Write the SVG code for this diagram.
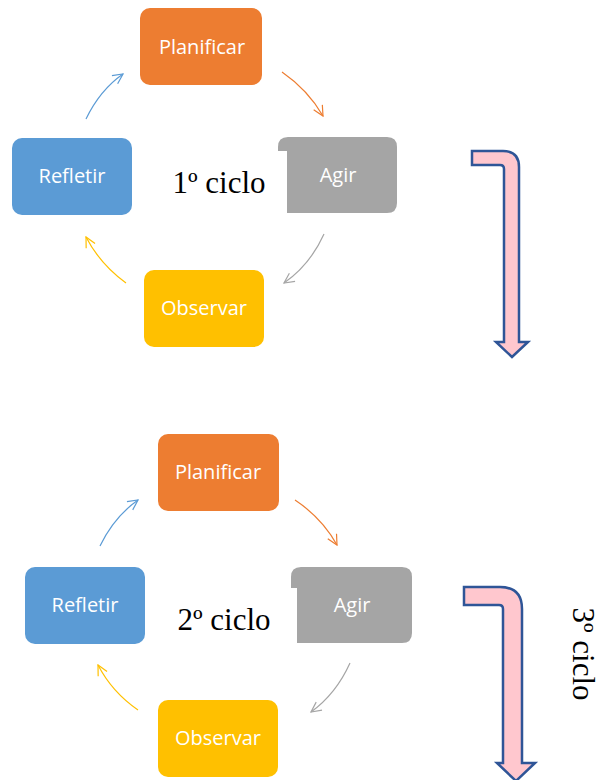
<svg xmlns="http://www.w3.org/2000/svg" width="600" height="780" viewBox="0 0 600 780">
<style>
.lbl{font-family:"Open Sans","Liberation Sans",sans-serif;font-size:20px;fill:#fff;text-anchor:middle;dominant-baseline:central}
.cyc{font-family:"Liberation Serif",serif;font-size:31px;fill:#000}
.c{fill:none;stroke-width:1.2}
.big{fill:#FFC7CE;stroke:#2F5597;stroke-width:2.5;stroke-linejoin:miter}
</style>
<defs>
<marker id="mb" viewBox="0 0 12 12" refX="11" refY="6" markerWidth="12" markerHeight="12" markerUnits="userSpaceOnUse" orient="auto"><path d="M1,1 L11,6 L1,11" fill="none" stroke="#5B9BD5" stroke-width="1.2"/></marker>
<marker id="mo" viewBox="0 0 12 12" refX="11" refY="6" markerWidth="12" markerHeight="12" markerUnits="userSpaceOnUse" orient="auto"><path d="M1,1 L11,6 L1,11" fill="none" stroke="#ED7D31" stroke-width="1.2"/></marker>
<marker id="mg" viewBox="0 0 12 12" refX="11" refY="6" markerWidth="12" markerHeight="12" markerUnits="userSpaceOnUse" orient="auto"><path d="M1,1 L11,6 L1,11" fill="none" stroke="#A5A5A5" stroke-width="1.2"/></marker>
<marker id="my" viewBox="0 0 12 12" refX="11" refY="6" markerWidth="12" markerHeight="12" markerUnits="userSpaceOnUse" orient="auto"><path d="M1,1 L11,6 L1,11" fill="none" stroke="#FFC000" stroke-width="1.2"/></marker>
</defs>

<g id="planificar1"><rect x="140" y="8" width="122" height="77" rx="10" fill="#ED7D31"/><text class="lbl" x="202" y="46">Planificar</text></g>
<g id="agir1"><path d="M287,213 L287,151 L278,151 L278,147 Q278,137 288,137 L387,137 Q397,137 397,147 L397,203 Q397,213 387,213 Z" fill="#A5A5A5"/><text class="lbl" x="338" y="174">Agir</text></g>
<g id="refletir1"><rect x="12" y="138" width="120" height="77" rx="10" fill="#5B9BD5"/><text class="lbl" x="72" y="175">Refletir</text></g>
<g id="observar1"><rect x="144" y="270" width="120" height="77" rx="10" fill="#FFC000"/><text class="lbl" x="204" y="307">Observar</text></g>
<text class="cyc" x="219" y="193" text-anchor="middle">1º ciclo</text>

<g id="planificar2"><rect x="158" y="434" width="121" height="77" rx="10" fill="#ED7D31"/><text class="lbl" x="218" y="471">Planificar</text></g>
<g id="agir2"><path d="M297,643 L297,588 L291,588 L291,577 Q291,567 301,567 L402,567 Q412,567 412,577 L412,633 Q412,643 402,643 Z" fill="#A5A5A5"/><text class="lbl" x="352" y="604">Agir</text></g>
<g id="refletir2"><rect x="25" y="567" width="120" height="77" rx="10" fill="#5B9BD5"/><text class="lbl" x="85" y="604">Refletir</text></g>
<g id="observar2"><rect x="158" y="700" width="120" height="77" rx="10" fill="#FFC000"/><text class="lbl" x="218" y="737">Observar</text></g>
<text class="cyc" x="224" y="630" text-anchor="middle">2º ciclo</text>
<text class="cyc" x="0" y="0" text-anchor="middle" transform="translate(573,654) rotate(90)">3º ciclo</text>

<g id="connectors">
<path class="c" stroke="#5B9BD5" d="M86,119 Q100,90 123,74" marker-end="url(#mb)"/>
<path class="c" stroke="#ED7D31" d="M282,72 Q308,90 323,116" marker-end="url(#mo)"/>
<path class="c" stroke="#A5A5A5" d="M324,234 Q310,265 284,283" marker-end="url(#mg)"/>
<path class="c" stroke="#FFC000" d="M126,283 Q100,264 86,237" marker-end="url(#my)"/>

<path class="c" stroke="#5B9BD5" d="M100,546 Q114,517 138,500" marker-end="url(#mb)"/>
<path class="c" stroke="#ED7D31" d="M295,500 Q322,518 337,545" marker-end="url(#mo)"/>
<path class="c" stroke="#A5A5A5" d="M350,663 Q336,694 311,712" marker-end="url(#mg)"/>
<path class="c" stroke="#FFC000" d="M138,710 Q112,692 98,665" marker-end="url(#my)"/>

<path class="big" d="M472,151 L503,151 Q519,151 519,167 L519,342 L528,342 L512,357 L496,342 L504,342 L504,169 Q504,165 500,165 L472,165 Z"/>
<path class="big" d="M464,587 L500,587 Q522,587 522,609 L522,763 L535,763 L516,781 L497,763 L503,763 L503,609 Q503,605 499,605 L464,605 Z"/>
</g>
</svg>
